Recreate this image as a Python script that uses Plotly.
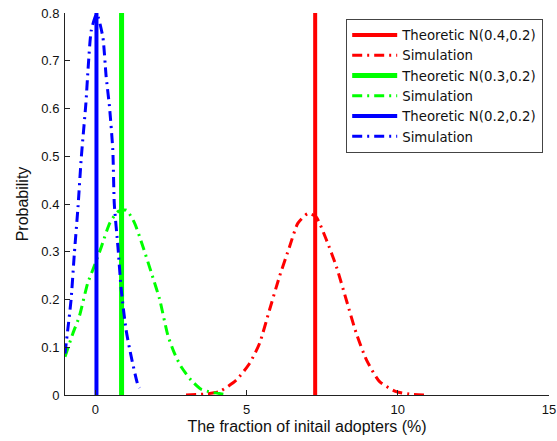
import plotly.graph_objects as go

# Theoretic values (vertical lines)
theo_red_x = [7.27, 7.27]
theo_green_x = [0.87, 0.87]
theo_blue_x = [0.04, 0.04]
theo_y = [0.0, 0.8]

# Simulation curves
red_x = [3.0, 3.6, 4.1, 4.66, 5.1, 5.43, 5.76, 6.09, 6.42, 6.7, 7.03, 7.3, 7.64, 7.97, 8.3, 8.63, 8.97, 9.4, 9.95, 10.5, 11.0]
red_y = [0.0, 0.002, 0.007, 0.031, 0.066, 0.108, 0.178, 0.248, 0.31, 0.36, 0.38, 0.373, 0.325, 0.269, 0.199, 0.129, 0.073, 0.028, 0.007, 0.001, 0.0]

green_x = [-1.0, -0.74, -0.53, -0.25, -0.02, 0.2, 0.48, 0.75, 1.03, 1.3, 1.58, 1.86, 2.13, 2.4, 2.62, 2.84, 3.17, 3.5, 3.83, 4.1, 4.4]
green_y = [0.08, 0.129, 0.164, 0.234, 0.272, 0.31, 0.36, 0.384, 0.387, 0.36, 0.31, 0.255, 0.2, 0.125, 0.087, 0.059, 0.031, 0.012, 0.006, 0.003, 0.0]

blue_x = [-1.0, -0.91, -0.8, -0.69, -0.57, -0.46, -0.31, -0.24, -0.13, 0.05, 0.25, 0.36, 0.47, 0.58, 0.63, 0.75, 0.86, 1.02, 1.19, 1.41, 1.47]
blue_y = [0.087, 0.136, 0.199, 0.297, 0.394, 0.499, 0.61, 0.68, 0.764, 0.798, 0.75, 0.667, 0.604, 0.513, 0.40, 0.31, 0.22, 0.136, 0.08, 0.021, 0.015]

x_ticks = [0, 5, 10, 15]
y_ticks = [0, 0.1, 0.2, 0.3, 0.4, 0.5, 0.6, 0.7, 0.8]
y_tick_text = ["0", "0.1", "0.2", "0.3", "0.4", "0.5", "0.6", "0.7", "0.8"]

RED, GREEN, BLUE = "#FF0000", "#00FF00", "#0000FF"
DASHDOT = "10px,5px,2px,5px"

fig = go.Figure()
fig.add_trace(go.Scatter(x=theo_red_x, y=theo_y, mode="lines", name="Theoretic N(0.4,0.2)",
                         line=dict(color=RED, width=4)))
fig.add_trace(go.Scatter(x=red_x, y=red_y, mode="lines", name="Simulation",
                         line=dict(color=RED, width=3, dash=DASHDOT, shape="spline", smoothing=0.6)))
fig.add_trace(go.Scatter(x=theo_green_x, y=theo_y, mode="lines", name="Theoretic N(0.3,0.2)",
                         line=dict(color=GREEN, width=5)))
fig.add_trace(go.Scatter(x=green_x, y=green_y, mode="lines", name="Simulation",
                         line=dict(color=GREEN, width=3, dash=DASHDOT, shape="spline", smoothing=0.6)))
fig.add_trace(go.Scatter(x=theo_blue_x, y=theo_y, mode="lines", name="Theoretic N(0.2,0.2)",
                         line=dict(color=BLUE, width=4)))
fig.add_trace(go.Scatter(x=blue_x, y=blue_y, mode="lines", name="Simulation",
                         line=dict(color=BLUE, width=3, dash=DASHDOT, shape="spline", smoothing=0.6)))

font_family = "Liberation Sans, Arial, sans-serif"

fig.update_layout(
    width=557, height=441,
    margin=dict(l=65, r=8, t=13, b=46, autoexpand=False),
    paper_bgcolor="white", plot_bgcolor="white",
    font=dict(family=font_family, size=13, color="#111111"),
    showlegend=True,
    legend=dict(x=0.988, y=0.985, xanchor="right", yanchor="top",
                bgcolor="white", bordercolor="#444444", borderwidth=1,
                font=dict(family="DejaVu Sans, sans-serif", size=13.3, color="#111111"),
                itemwidth=45, tracegroupgap=0),
    xaxis=dict(range=[-1, 15], tickvals=x_ticks, ticks="inside", ticklen=5,
               showline=True, linecolor="#222222", linewidth=1, tickcolor="#222222",
               showgrid=False, zeroline=False, automargin=False, ticklabelstandoff=2,
               ticklabeloverflow="allow",
               title=dict(text="The fraction of initail adopters (%)", font=dict(size=16), standoff=5)),
    yaxis=dict(range=[0, 0.8], tickvals=y_ticks, ticktext=y_tick_text, ticks="inside", ticklen=5,
               showline=True, linecolor="#222222", linewidth=1, tickcolor="#222222",
               showgrid=False, zeroline=False, automargin=False, ticklabelstandoff=2,
               ticklabeloverflow="allow",
               title=dict(text="Probability", font=dict(size=16), standoff=8)),
)

# remove the default page margin so the 557x441 figure fills the window exactly
fig.write_html("out.html",
               config={"displayModeBar": False},
               post_script="document.body.style.margin='0';document.body.style.overflow='hidden';")
